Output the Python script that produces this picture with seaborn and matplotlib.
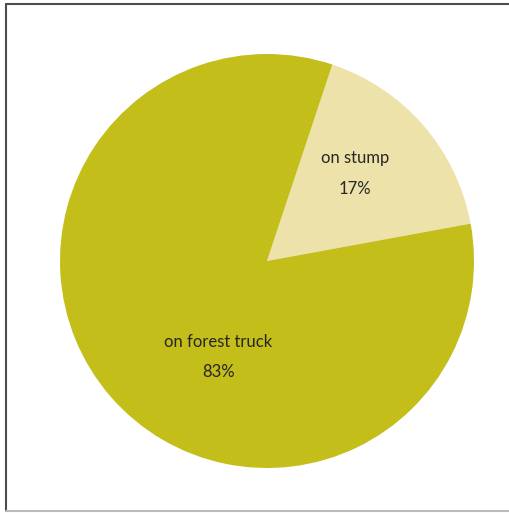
import numpy as np
import matplotlib
matplotlib.use("Agg")
import matplotlib.pyplot as plt
import seaborn as sns
from matplotlib.lines import Line2D

# Share of residues by storage location
categories = ["on stump", "on forest truck"]
shares = [17, 83]
colors = ["#EDE2AA", "#C3BE1A"]

sns.set_theme(style="white")
plt.rcParams["font.family"] = ["Lato", "DejaVu Sans"]

fig = plt.figure(figsize=(5.10, 5.13), dpi=100)
fig.patch.set_facecolor("white")

# Frame around the chart area (left/top darker, bottom lighter)
W, H = 510, 513
left_x, top_y, bottom_y = 6.5 / W, 1 - 3.5 / H, 1 - 510.5 / H
fig.add_artist(Line2D([left_x, left_x], [bottom_y, top_y], transform=fig.transFigure,
                      color="#4d4d4d", linewidth=1.5))
fig.add_artist(Line2D([left_x, 1.0], [top_y, top_y], transform=fig.transFigure,
                      color="#4d4d4d", linewidth=1.5))
fig.add_artist(Line2D([left_x, 1.0], [bottom_y, bottom_y], transform=fig.transFigure,
                      color="#bbbbbb", linewidth=1.5))

ax = fig.add_axes([60 / W, 45 / H, 414 / W, 414 / H])
palette = sns.color_palette(colors)

# Stump wedge centred around 41 degrees, drawn clockwise
span = shares[0] / sum(shares) * 360
start = 41 + span / 2
wedges, _ = ax.pie(shares, colors=palette, startangle=start,
                   counterclock=False, radius=1.0,
                   wedgeprops=dict(linewidth=0))
ax.set_aspect("equal")
ax.set_xlim(-1, 1)
ax.set_ylim(-1, 1)
ax.axis("off")

# Label placement (distance from centre, angle in degrees)
label_pos = [(0.60, 45), (0.52, 243)]
for cat, val, (r, ang) in zip(categories, shares, label_pos):
    x = r * np.cos(np.radians(ang))
    y = r * np.sin(np.radians(ang))
    ax.text(x, y, f"{cat}\n\n{val}%", ha="center", va="center",
            fontsize=12, color="#262626", linespacing=0.95)

fig.savefig("out.png", dpi=100)
